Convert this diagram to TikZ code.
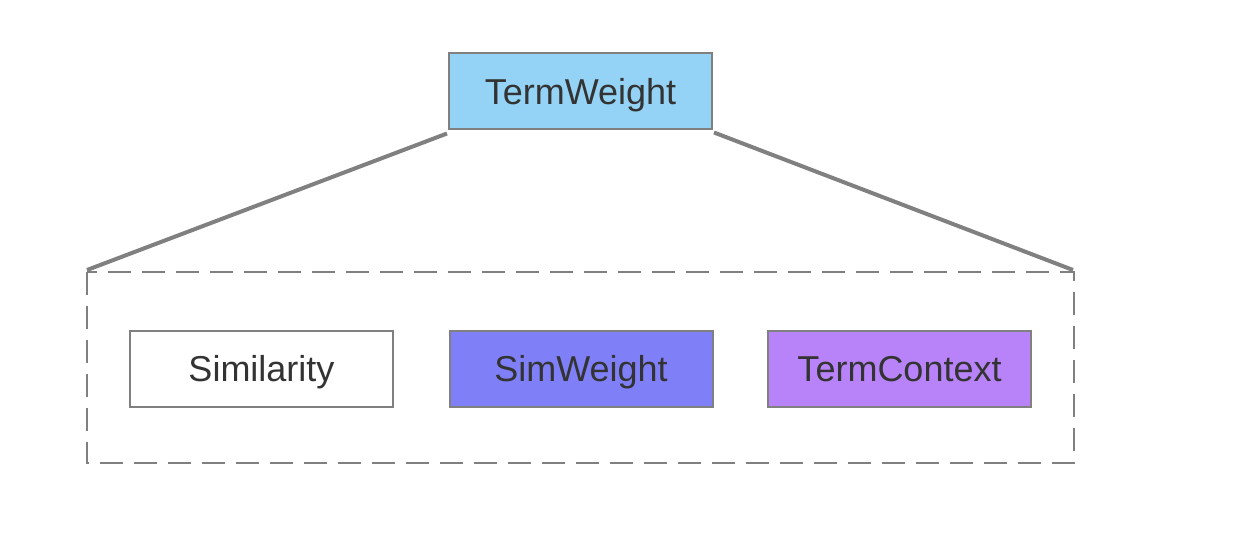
\documentclass[tikz,border=0pt]{standalone}
\usepackage{fontspec}
\setmainfont{Liberation Sans}
\definecolor{edgegray}{HTML}{808080}
\definecolor{txt}{HTML}{333333}
\definecolor{topblue}{HTML}{94D3F5}
\definecolor{simw}{HTML}{7F80F8}
\definecolor{termc}{HTML}{B883F8}
\tikzset{
  box/.style={draw=edgegray, line width=2pt, minimum width=263pt, minimum height=76pt, inner sep=0pt, text=txt, font=\fontsize{36}{42}\selectfont, text height=25.8pt, text depth=-2.6pt},
  link/.style={draw=edgegray, line width=4pt},
  group/.style={draw=edgegray, line width=2pt, dash pattern=on 23pt off 11pt}
}
\begin{document}
\begin{tikzpicture}[x=1pt,y=-1pt]
\useasboundingbox (0,0) rectangle (1240,548);
\node[box, fill=topblue] (tw) at (580.5,91.5) {TermWeight};
\node[box, fill=white] (sim) at (261.5,368.5) {Similarity};
\node[box, fill=simw] (sw) at (581,368.5) {SimWeight};
\node[box, fill=termc] (tc) at (899.5,368.5) {TermContext};
\draw[group] (87,272) rectangle (1074,463);
\coordinate (gl) at (87,270);
\coordinate (gr) at (1073,270);
\draw[link] (tw.south west) ++(-1,3) -- (gl);
\draw[link] (tw.south east) ++(1,2) -- (gr);
\end{tikzpicture}
\end{document}
